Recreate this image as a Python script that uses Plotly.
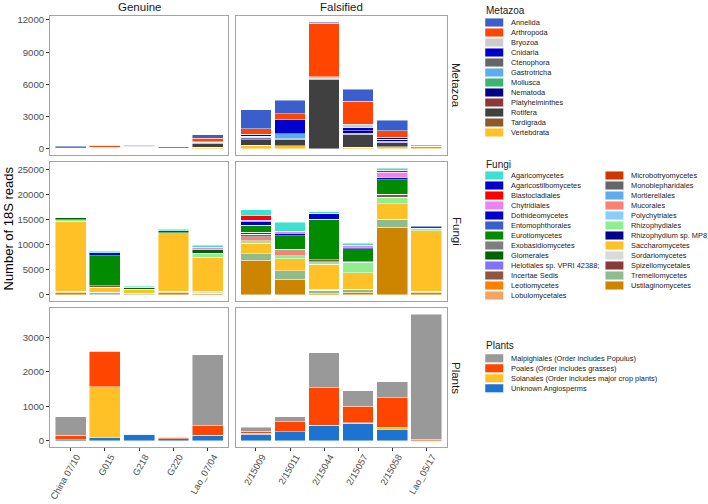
import plotly.graph_objects as go

W, H = 708, 504

# ---------------- data ----------------
genuine = ["China 07/10", "G015", "G218", "G220", "Lao_07/04"]
falsified = ["2/15009", "2/15011", "2/15044", "2/15057", "2/15058", "Lao_05/17"]

metazoa_taxa = ["Annelida", "Arthropoda", "Bryozoa", "Cnidaria", "Ctenophora", "Gastrotricha",
                "Mollusca", "Nematoda", "Platyhelminthes", "Rotifera", "Tardigrada", "Vertebdrata"]
metazoa_colors = ["#3A5FCD", "#FF4500", "#CCCCCC", "#0000CD", "#666666", "#5CACEE",
                  "#3CB371", "#00008B", "#8B3A3A", "#404040", "#8B5A2B", "#FFC125"]
# values: 5 genuine samples then 6 falsified samples
metazoa_values = {
    "Annelida":        [100, 0, 60, 0, 330, 1730, 1220, 100, 1150, 960, 30],
    "Arthropoda":      [0, 200, 80, 0, 320, 550, 580, 4990, 2110, 620, 80],
    "Bryozoa":         [0, 0, 0, 0, 0, 0, 0, 150, 370, 0, 40],
    "Cnidaria":        [60, 0, 100, 150, 30, 150, 1320, 0, 280, 190, 0],
    "Ctenophora":      [0, 0, 0, 0, 0, 0, 0, 0, 0, 0, 0],
    "Gastrotricha":    [90, 0, 0, 30, 120, 120, 450, 0, 0, 0, 50],
    "Mollusca":        [0, 0, 0, 0, 0, 0, 0, 0, 0, 0, 0],
    "Nematoda":        [0, 100, 80, 20, 0, 150, 0, 0, 200, 190, 0],
    "Platyhelminthes": [0, 0, 40, 0, 0, 60, 60, 60, 90, 90, 80],
    "Rotifera":        [0, 0, 0, 0, 350, 550, 580, 6480, 1240, 400, 0],
    "Tardigrada":      [0, 0, 0, 0, 0, 0, 0, 0, 0, 0, 0],
    "Vertebdrata":     [20, 30, 20, 20, 130, 300, 290, 0, 120, 190, 100],
}

fungi_taxa = ["Agaricomycetes", "Agaricostilbomycetes", "Blastocladiales", "Chytridiales",
              "Dothideomycetes", "Entomophthorales", "Eurotiomycetes", "Exobasidiomycetes",
              "Glomerales", "Helotiales sp. VPRI 42388;", "Incertae Sedis", "Leotiomycetes",
              "Lobulomycetales", "Microbotryomycetes", "Monoblepharidales", "Mortierellales",
              "Mucorales", "Polychytriales", "Rhizophydiales", "Rhizophydium sp. MP8",
              "Saccharomycetes", "Sordariomycetes", "Spizellomycetales", "Tremellomycetes",
              "Ustilaginomycetes"]
fungi_colors = ["#40E0D0", "#0000CD", "#FF0000", "#EE82EE", "#0000CD", "#3A5FCD", "#008B00",
                "#7F7F7F", "#006400", "#8470FF", "#8B5742", "#FF7F00", "#F4A460", "#CD3700",
                "#666666", "#5CACEE", "#FA8072", "#87CEFA", "#90EE90", "#00008B", "#FFC125",
                "#D9D9D9", "#8B3A3A", "#8FBC8F", "#CD8500"]
fungi_values = {
    "Agaricomycetes":            [0, 330, 200, 260, 460, 1260, 1720, 260, 400, 400, 0],
    "Agaricostilbomycetes":      [0, 0, 0, 0, 0, 0, 0, 0, 0, 0, 0],
    "Blastocladiales":           [0, 0, 0, 0, 0, 860, 0, 0, 0, 400, 0],
    "Chytridiales":              [0, 0, 0, 0, 530, 260, 460, 0, 400, 1060, 0],
    "Dothideomycetes":           [0, 530, 0, 0, 0, 730, 460, 1260, 260, 400, 0],
    "Entomophthorales":          [0, 0, 0, 0, 0, 0, 0, 0, 0, 0, 260],
    "Eurotiomycetes":            [0, 6030, 100, 0, 0, 1400, 2720, 8090, 2590, 2920, 0],
    "Exobasidiomycetes":         [0, 0, 0, 0, 0, 0, 0, 0, 0, 0, 0],
    "Glomerales":                [400, 0, 400, 400, 660, 460, 0, 0, 0, 0, 330],
    "Helotiales sp. VPRI 42388;": [0, 0, 0, 0, 0, 0, 0, 0, 0, 0, 0],
    "Incertae Sedis":            [0, 260, 0, 0, 0, 0, 330, 330, 130, 600, 0],
    "Leotiomycetes":             [0, 0, 0, 0, 0, 0, 0, 0, 0, 0, 0],
    "Lobulomycetales":           [0, 0, 0, 0, 0, 0, 0, 0, 0, 0, 0],
    "Microbotryomycetes":        [0, 0, 0, 0, 0, 0, 0, 0, 0, 0, 0],
    "Monoblepharidales":         [0, 0, 0, 0, 0, 460, 0, 0, 0, 0, 0],
    "Mortierellales":            [0, 0, 0, 0, 0, 0, 0, 0, 0, 0, 0],
    "Mucorales":                 [0, 0, 0, 0, 0, 800, 930, 0, 0, 0, 0],
    "Polychytriales":            [0, 0, 0, 0, 0, 0, 0, 0, 0, 0, 0],
    "Rhizophydiales":            [260, 0, 0, 0, 800, 530, 660, 530, 2120, 1260, 460],
    "Rhizophydium sp. MP8":      [0, 0, 0, 0, 0, 0, 0, 0, 0, 0, 0],
    "Saccharomycetes":           [14060, 1060, 860, 11740, 6830, 2120, 2390, 5040, 3320, 3120, 12070],
    "Sordariomycetes":           [0, 0, 0, 0, 330, 0, 0, 200, 0, 130, 0],
    "Spizellomycetales":         [0, 0, 0, 0, 0, 0, 0, 0, 0, 0, 0],
    "Tremellomycetes":           [130, 460, 260, 200, 0, 1260, 1660, 530, 600, 1460, 260],
    "Ustilaginomycetes":         [530, 0, 0, 460, 330, 6900, 3120, 330, 460, 13530, 460],
}

plants_taxa = ["Malpighiales (Order includes Populus)", "Poales (Order includes grasses)",
               "Solanales (Order includes major crop plants)", "Unknown Angiosperms"]
plants_colors = ["#999999", "#FF4500", "#FFC125", "#1C74D0"]
plants_values = {
    "Malpighiales (Order includes Populus)":        [537, 20, 0, 0, 2071, 115, 144, 1016, 441, 470, 3630],
    "Poales (Order includes grasses)":              [134, 1016, 20, 36, 268, 67, 288, 1083, 479, 853, 40],
    "Solanales (Order includes major crop plants)": [0, 1477, 0, 0, 0, 29, 0, 0, 29, 58, 0],
    "Unknown Angiosperms":                          [30, 86, 180, 60, 163, 182, 259, 451, 499, 336, 0],
}

groups = ["Metazoa", "Fungi", "Plants"]
group_data = [(metazoa_taxa, metazoa_colors, metazoa_values),
              (fungi_taxa, fungi_colors, fungi_values),
              (plants_taxa, plants_colors, plants_values)]
y_ticks = [[0, 3000, 6000, 9000, 12000],
           [0, 5000, 10000, 15000, 20000, 25000],
           [0, 1000, 2000, 3000]]

# ---------------- layout helpers ----------------
def fx(px):
    return px / W

def fy(py):
    return 1 - py / H

col_px = [(50, 228.3), (235.5, 446.7)]
row_px = [(16, 155), (162, 301), (308, 447)]
FONT = "Liberation Sans, Arial, sans-serif"

fig = go.Figure()
ng = len(genuine)

for r, (taxa, colors, values) in enumerate(group_data):
    for c, cats in enumerate([genuine, falsified]):
        idx = r * 2 + c + 1
        xa = "x" if idx == 1 else f"x{idx}"
        ya = "y" if idx == 1 else f"y{idx}"
        # ggplot stacks first level on top -> add in reverse
        for t, col in reversed(list(zip(taxa, colors))):
            vals = values[t][:ng] if c == 0 else values[t][ng:]
            fig.add_trace(go.Bar(
                x=cats, y=vals, name=t, marker=dict(color=col,
                line=dict(color="rgba(255,255,255,0.75)", width=0.6)),
                xaxis=xa, yaxis=ya, showlegend=False,
                hovertemplate="%{x}<br>" + t + ": %{y}<extra></extra>"))

layout_axes = {}
for r in range(3):
    vals_all = [sum(v[i] for v in group_data[r][2].values()) for i in range(11)]
    ymax = max(vals_all)
    pad = 0.05 * ymax
    for c in range(2):
        idx = r * 2 + c + 1
        xname = "xaxis" if idx == 1 else f"xaxis{idx}"
        yname = "yaxis" if idx == 1 else f"yaxis{idx}"
        cats = genuine if c == 0 else falsified
        layout_axes[xname] = dict(
            domain=[fx(col_px[c][0]), fx(col_px[c][1])],
            anchor="y" if idx == 1 else f"y{idx}",
            type="category", categoryorder="array", categoryarray=cats,
            range=[-0.6, len(cats) - 0.4],
            showline=True, mirror=True, linecolor="#A3A3A3", linewidth=1,
            showgrid=False, zeroline=False,
            showticklabels=(r == 2), ticks="outside" if r == 2 else "",
            ticklen=3, tickcolor="#333333", tickwidth=1,
            tickangle=-60, tickfont=dict(family=FONT, size=9.3, color="#4D4D4D"),
            ticklabelstandoff=-3, ticklabelshift=6,
            automargin=False, fixedrange=True)
        layout_axes[yname] = dict(
            domain=[fy(row_px[r][1]), fy(row_px[r][0])],
            anchor="x" if idx == 1 else f"x{idx}",
            range=[-pad, ymax + pad],
            tickvals=y_ticks[r], ticktext=[str(v) for v in y_ticks[r]],
            showline=True, mirror=True, linecolor="#A3A3A3", linewidth=1,
            showgrid=False, zeroline=False,
            showticklabels=(c == 0), ticks="outside" if c == 0 else "",
            ticklen=3, tickcolor="#333333", tickwidth=1,
            tickfont=dict(family=FONT, size=9.6, color="#4D4D4D"),
            automargin=False, fixedrange=True)

annotations = []
shapes = []
# strip labels
for c, lab in enumerate(["Genuine", "Falsified"]):
    annotations.append(dict(text=lab, x=fx((col_px[c][0] + col_px[c][1]) / 2), y=fy(7.5),
                            xref="paper", yref="paper", showarrow=False,
                            xanchor="center", yanchor="middle",
                            font=dict(family=FONT, size=11.5, color="#1A1A1A")))
for r, lab in enumerate(groups):
    annotations.append(dict(text=lab, x=fx(456.5), y=fy((row_px[r][0] + row_px[r][1]) / 2),
                            xref="paper", yref="paper", showarrow=False, textangle=90,
                            xanchor="center", yanchor="middle",
                            font=dict(family=FONT, size=11.5, color="#1A1A1A")))
# y axis title
annotations.append(dict(text="Number of 18S reads", x=fx(8.5), y=fy(229), xref="paper", yref="paper",
                        showarrow=False, textangle=-90, xanchor="center", yanchor="middle",
                        font=dict(family=FONT, size=13, color="#000000")))

# manual legends (ggplot style)
def legend_block(title, taxa, colors, title_y, first_y, split=None):
    annotations.append(dict(text=title, x=fx(484), y=fy(title_y), xref="paper", yref="paper",
                            showarrow=False, xanchor="left", yanchor="middle",
                            font=dict(family=FONT, size=10, color="#1A1A1A")))
    n = len(taxa)
    per_col = split if split else n
    for i, (t, col) in enumerate(zip(taxa, colors)):
        cidx, ridx = divmod(i, per_col)
        kx = 485 + cidx * 120.2
        cy = first_y + 10 * ridx
        shapes.append(dict(type="rect", xref="paper", yref="paper",
                           x0=fx(kx), x1=fx(kx + 18.5), y0=fy(cy + 4.3), y1=fy(cy - 4.3),
                           fillcolor=col, line=dict(color="white", width=0.5)))
        annotations.append(dict(text=t, x=fx(kx + 23.5), y=fy(cy), xref="paper", yref="paper",
                                showarrow=False, xanchor="left", yanchor="middle",
                                font=dict(family=FONT, size=7.4, color="#1A1A1A")))

legend_block("Metazoa", metazoa_taxa, metazoa_colors, 10, 22.5)
legend_block("Fungi", fungi_taxa, fungi_colors, 165, 175.5, split=13)
legend_block("Plants", plants_taxa, plants_colors, 345, 358.3)

fig.update_layout(
    width=W, height=H, margin=dict(l=0, r=0, t=0, b=0),
    template="none", paper_bgcolor="white", plot_bgcolor="white",
    barmode="stack", bargap=0.1, showlegend=False,
    annotations=annotations, shapes=shapes,
    font=dict(family=FONT), **layout_axes)

# remove the default 8px page margin so the 708x504 figure fills the window exactly
fig.write_html("out.html",
               config={"displayModeBar": False, "staticPlot": True},
               post_script="document.body.style.margin='0';document.body.style.overflow='hidden';")
